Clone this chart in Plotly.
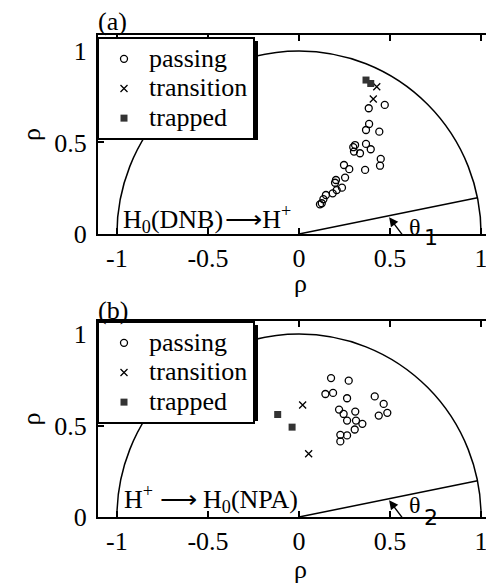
import math
import plotly.graph_objects as go

# ---------------- data ----------------
# Panel (a): H0(DNB) -> H+
a_passing_x = [0.471, 0.383, 0.385, 0.368, 0.441, 0.308, 0.298, 0.368, 0.394, 0.302,
               0.335, 0.449, 0.445, 0.363, 0.247, 0.276, 0.253, 0.203, 0.198, 0.236,
               0.207, 0.185, 0.148, 0.134, 0.125, 0.115]
a_passing_y = [0.705, 0.687, 0.601, 0.568, 0.559, 0.486, 0.474, 0.492, 0.463, 0.450,
               0.441, 0.410, 0.373, 0.350, 0.377, 0.354, 0.308, 0.295, 0.280, 0.253,
               0.240, 0.222, 0.213, 0.190, 0.168, 0.162]
a_transition_x = [0.427, 0.408]
a_transition_y = [0.804, 0.737]
a_trapped_x = [0.368, 0.394]
a_trapped_y = [0.841, 0.822]

# Panel (b): H+ -> H0(NPA)
b_passing_x = [0.176, 0.273, 0.145, 0.187, 0.264, 0.416, 0.465, 0.220, 0.245, 0.309,
               0.264, 0.313, 0.348, 0.306, 0.438, 0.485, 0.227, 0.264, 0.227]
b_passing_y = [0.759, 0.745, 0.672, 0.678, 0.649, 0.659, 0.618, 0.587, 0.563, 0.576,
               0.527, 0.527, 0.509, 0.478, 0.554, 0.569, 0.449, 0.446, 0.413]
b_transition_x = [0.020, 0.053]
b_transition_y = [0.612, 0.346]
b_trapped_x = [-0.117, -0.038]
b_trapped_y = [0.560, 0.491]

series_names = ["passing", "transition", "trapped"]
x_tickvals = [-1, -0.5, 0, 0.5, 1]
x_ticktext = ["-1", "-0.5", "0", "0.5", "1"]
y_tickvals = [0, 0.5, 1]
y_ticktext = ["0", "0.5", "1"]
theta1_deg = 11.4
theta2_deg = 11.4
boundary_radius = 1.0

# ---------------- layout helpers ----------------
FONT = "Liberation Serif, Times New Roman, serif"
WIN_W, WIN_H = 494, 583
OFF = 8                       # page body margin
W, H = WIN_W - OFF, WIN_H - OFF


def px_x(p):
    return (p - OFF) / W


def px_y(p):
    return (WIN_H - p) / H


def big(t):
    return '<span style="font-size:26px">' + t + '</span>'


fig = go.Figure()


def add_panel(xref, yref, legend, ps, pt, ptr):
    fig.add_trace(go.Scatter(x=ps[0], y=ps[1], mode="markers", name=big(series_names[0]),
                             xaxis=xref, yaxis=yref, legend=legend,
                             marker=dict(symbol="circle-open", size=7, color="black",
                                         line=dict(width=1.3, color="black"))))
    fig.add_trace(go.Scatter(x=pt[0], y=pt[1], mode="markers", name=big(series_names[1]),
                             xaxis=xref, yaxis=yref, legend=legend,
                             marker=dict(symbol="x-thin-open", size=7, color="black",
                                         line=dict(width=1.3, color="black"))))
    fig.add_trace(go.Scatter(x=ptr[0], y=ptr[1], mode="markers", name=big(series_names[2]),
                             xaxis=xref, yaxis=yref, legend=legend,
                             marker=dict(symbol="square", size=7, color="#333333",
                                         line=dict(width=0))))


add_panel("x", "y", "legend",
          (a_passing_x, a_passing_y), (a_transition_x, a_transition_y), (a_trapped_x, a_trapped_y))
add_panel("x2", "y2", "legend2",
          (b_passing_x, b_passing_y), (b_transition_x, b_transition_y), (b_trapped_x, b_trapped_y))

x_range = [-1.104, 1.071]
ya_range = [0, 1.087]
yb_range = [0, 1.071]

axis_common = dict(showline=True, linecolor="black", linewidth=2, mirror="ticks",
                   ticks="inside", ticklen=6, tickwidth=1.5, tickcolor="black",
                   showgrid=False, zeroline=False, automargin=False,
                   tickfont=dict(family=FONT, size=26, color="black"))

legend_common = dict(xanchor="left", yanchor="top", bgcolor="white",
                     bordercolor="black", borderwidth=2,
                     font=dict(family=FONT, size=20.5, color="black"),
                     tracegroupgap=0, itemsizing="trace", itemwidth=40)

fig.update_layout(
    width=W, height=H,
    margin=dict(l=0, r=0, t=0, b=0),
    paper_bgcolor="white", plot_bgcolor="white",
    font=dict(family=FONT, size=26, color="black"),
    xaxis=dict(domain=[px_x(98), 1.0], range=x_range, anchor="y",
               tickvals=x_tickvals, ticktext=x_ticktext, ticklabelstandoff=0,
               **axis_common),
    yaxis=dict(domain=[px_y(234), px_y(35)], range=ya_range, anchor="x",
               tickvals=y_tickvals, ticktext=y_ticktext, ticklabelstandoff=4,
               title=dict(text="ρ", standoff=6, font=dict(family=FONT, size=26)),
               **axis_common),
    xaxis2=dict(domain=[px_x(98), 1.0], range=x_range, anchor="y2",
                tickvals=x_tickvals, ticktext=x_ticktext, ticklabelstandoff=0,
                **axis_common),
    yaxis2=dict(domain=[px_y(517), px_y(321)], range=yb_range, anchor="x2",
                tickvals=y_tickvals, ticktext=y_ticktext, ticklabelstandoff=4,
                title=dict(text="ρ", standoff=6, font=dict(family=FONT, size=26)),
                **axis_common),
    legend=dict(x=px_x(97), y=px_y(37), **legend_common),
    legend2=dict(x=px_x(97), y=px_y(321), **legend_common),
    showlegend=True,
)

shapes = []
for xr, yr, th in (("x", "y", theta1_deg), ("x2", "y2", theta2_deg)):
    r = boundary_radius
    shapes.append(dict(type="circle", xref=xr, yref=yr, x0=-r, y0=-r, x1=r, y1=r,
                       line=dict(color="black", width=1.5), layer="below"))
    shapes.append(dict(type="line", xref=xr, yref=yr, x0=0, y0=0,
                       x1=r * math.cos(math.radians(th)), y1=r * math.sin(math.radians(th)),
                       line=dict(color="black", width=1.5)))
# legend drop shadows (right / bottom)
shapes.append(dict(type="rect", xref="paper", yref="paper",
                   x0=px_x(101), x1=px_x(258), y0=px_y(140), y1=px_y(41),
                   fillcolor="black", line=dict(width=0), layer="above"))
shapes.append(dict(type="rect", xref="paper", yref="paper",
                   x0=px_x(101), x1=px_x(258), y0=px_y(421), y1=px_y(325),
                   fillcolor="black", line=dict(width=0), layer="above"))
fig.update_layout(shapes=shapes)

ann = []
for lbl, yy in (("(a)", 21), ("(b)", 310)):
    ann.append(dict(text=lbl, xref="paper", yref="paper", x=px_x(96), y=px_y(yy),
                    xanchor="left", yanchor="middle", showarrow=False,
                    font=dict(family=FONT, size=26)))
for yy in (283, 569):
    ann.append(dict(text="ρ", xref="paper", yref="paper", x=px_x(300), y=px_y(yy),
                    xanchor="center", yanchor="middle", showarrow=False,
                    font=dict(family=FONT, size=26)))
ann.append(dict(text="H<sub>0</sub>(DNB)\u200a⟶H<sup>+</sup>", xref="x", yref="y",
                x=-0.975, y=0.08, xanchor="left", yanchor="middle", showarrow=False,
                font=dict(family=FONT, size=26)))
ann.append(dict(text="H<sup>+</sup> ⟶ H<sub>0</sub>(NPA)", xref="x2", yref="y2",
                x=-0.97, y=0.1, xanchor="left", yanchor="middle", showarrow=False,
                font=dict(family=FONT, size=26)))
for xr, yr, num, th, tshift, nshift in (("x", "y", "1", theta1_deg, 7, -3),
                                        ("x2", "y2", "2", theta2_deg, 12, 0)):
    hx = 0.495
    hy = hx * math.tan(math.radians(th)) - 0.008
    ann.append(dict(text="", xref=xr, yref=yr, x=hx, y=hy, ax=15, ay=20,
                    showarrow=True, arrowhead=2, arrowsize=1.3, arrowwidth=1.4,
                    arrowcolor="black"))
    ann.append(dict(text="θ", xref=xr, yref=yr, x=0.595, y=0.0, yshift=tshift,
                    xanchor="left", yanchor="middle", showarrow=False,
                    font=dict(family=FONT, size=24)))
    ann.append(dict(text=num, xref=xr, yref=yr, x=0.675, y=0.0, yshift=nshift,
                    xanchor="left", yanchor="middle", showarrow=False,
                    font=dict(family="DejaVu Sans", size=22)))
fig.update_layout(annotations=ann)

fig.write_html("out.html")
